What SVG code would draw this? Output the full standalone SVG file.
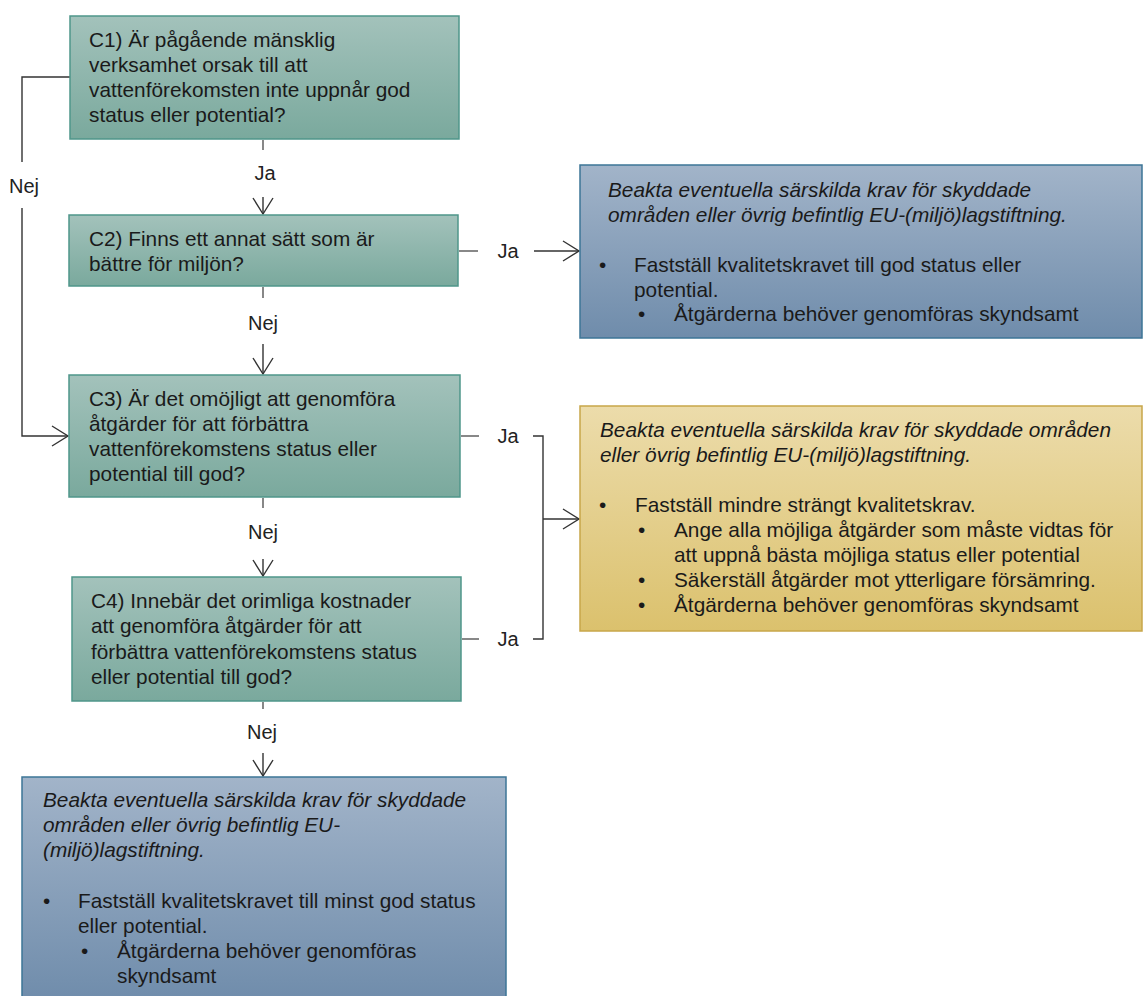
<svg xmlns="http://www.w3.org/2000/svg" width="1144" height="996" viewBox="0 0 1144 996">
<defs>
<linearGradient id="gTeal" x1="0" y1="0" x2="0" y2="1">
<stop offset="0" stop-color="#a3c2bb"/>
<stop offset="1" stop-color="#7aa99d"/>
</linearGradient>
<linearGradient id="gBlue" x1="0" y1="0" x2="0" y2="1">
<stop offset="0" stop-color="#a2b4c9"/>
<stop offset="1" stop-color="#6f8cab"/>
</linearGradient>
<linearGradient id="gYellow" x1="0" y1="0" x2="0" y2="1">
<stop offset="0" stop-color="#ecdcab"/>
<stop offset="1" stop-color="#dbc16d"/>
</linearGradient>
<marker id="arr" markerUnits="userSpaceOnUse" markerWidth="20" markerHeight="22" refX="17" refY="11" orient="auto">
<path d="M1,1 L17,11 L1,21" fill="none" stroke="#333" stroke-width="1.4"/>
</marker>
<style>
text{font-family:"Liberation Sans",Arial,sans-serif;font-size:20.8px;fill:#1a1a1a}
.it{font-style:italic}
.lbl{font-size:20px;text-anchor:middle;fill:#222}
.teal{fill:url(#gTeal);stroke:#4f968a;stroke-width:1.5}
.blue{fill:url(#gBlue);stroke:#3d7597;stroke-width:1.5}
.yel{fill:url(#gYellow);stroke:#c8a64a;stroke-width:1.5}
.ln{fill:none;stroke:#333;stroke-width:1.4}
.stub{fill:none;stroke:#555;stroke-width:1.4}
</style>
</defs>

<g id="connectors">
<polyline class="ln" points="70,77 22,77 22,162"/>
<polyline class="ln" points="22,208 22,436 68,436" marker-end="url(#arr)"/>
<line class="stub" x1="263" y1="140" x2="263" y2="150"/>
<line class="ln" x1="263" y1="197" x2="263" y2="214" marker-end="url(#arr)"/>
<line class="stub" x1="263" y1="287" x2="263" y2="298"/>
<line class="ln" x1="263" y1="344" x2="263" y2="374" marker-end="url(#arr)"/>
<line class="stub" x1="263" y1="498" x2="263" y2="508"/>
<line class="ln" x1="263" y1="559" x2="263" y2="576" marker-end="url(#arr)"/>
<line class="stub" x1="263" y1="702" x2="263" y2="709"/>
<line class="ln" x1="263" y1="753" x2="263" y2="776" marker-end="url(#arr)"/>
<line class="stub" x1="459" y1="251" x2="478" y2="251"/>
<line class="ln" x1="534" y1="251" x2="579" y2="251" marker-end="url(#arr)"/>
<line class="stub" x1="461" y1="436" x2="479" y2="436"/>
<line class="stub" x1="462" y1="639" x2="479" y2="639"/>
<polyline class="ln" points="533,436 543,436 543,639 533,639"/>
<line class="ln" x1="543" y1="519" x2="579" y2="519" marker-end="url(#arr)"/>
<text class="lbl" x="24" y="193">Nej</text>
<text class="lbl" x="265" y="180">Ja</text>
<text class="lbl" x="508" y="258">Ja</text>
<text class="lbl" x="263" y="330">Nej</text>
<text class="lbl" x="508" y="443">Ja</text>
<text class="lbl" x="263" y="539">Nej</text>
<text class="lbl" x="508" y="646">Ja</text>
<text class="lbl" x="262" y="739">Nej</text>
</g>

<g id="c1">
<rect class="teal" x="70" y="16" width="389" height="123"/>
<text x="89" y="47">C1) Är pågående mänsklig</text>
<text x="89" y="72">verksamhet orsak till att</text>
<text x="89" y="97">vattenförekomsten inte uppnår god</text>
<text x="89" y="122">status eller potential?</text>
</g>

<g id="c2">
<rect class="teal" x="69" y="215" width="389" height="71"/>
<text x="89" y="246">C2) Finns ett annat sätt som är</text>
<text x="89" y="271">bättre för miljön?</text>
</g>

<g id="c3">
<rect class="teal" x="69" y="375" width="391" height="122"/>
<text x="89" y="406">C3) Är det omöjligt att genomföra</text>
<text x="89" y="431">åtgärder för att förbättra</text>
<text x="89" y="456">vattenförekomstens status eller</text>
<text x="89" y="481">potential till god?</text>
</g>

<g id="c4">
<rect class="teal" x="72" y="577" width="389" height="124"/>
<text x="91" y="608">C4) Innebär det orimliga kostnader</text>
<text x="91" y="633">att genomföra åtgärder för att</text>
<text x="91" y="659">förbättra vattenförekomstens status</text>
<text x="91" y="684">eller potential till god?</text>
</g>

<g id="r1">
<rect class="blue" x="580" y="165" width="562" height="173"/>
<text class="it" x="608" y="197">Beakta eventuella särskilda krav för skyddade</text>
<text class="it" x="608" y="222">områden eller övrig befintlig EU-(miljö)lagstiftning.</text>
<text x="599" y="272">•</text>
<text x="634" y="272">Fastställ kvalitetskravet till god status eller</text>
<text x="634" y="297">potential.</text>
<text x="638" y="321">•</text>
<text x="674" y="321">Åtgärderna behöver genomföras skyndsamt</text>
</g>

<g id="r2">
<rect class="yel" x="580" y="406" width="562" height="225"/>
<text class="it" x="600" y="437">Beakta eventuella särskilda krav för skyddade områden</text>
<text class="it" x="600" y="462">eller övrig befintlig EU-(miljö)lagstiftning.</text>
<text x="599" y="512">•</text>
<text x="635" y="512">Fastställ mindre strängt kvalitetskrav.</text>
<text x="638" y="537">•</text>
<text x="674" y="537">Ange alla möjliga åtgärder som måste vidtas för</text>
<text x="674" y="562">att uppnå bästa möjliga status eller potential</text>
<text x="638" y="587">•</text>
<text x="674" y="587">Säkerställ åtgärder mot ytterligare försämring.</text>
<text x="638" y="612">•</text>
<text x="674" y="612">Åtgärderna behöver genomföras skyndsamt</text>
</g>

<g id="r3">
<rect class="blue" x="22" y="777" width="484" height="225"/>
<text class="it" x="43" y="807">Beakta eventuella särskilda krav för skyddade</text>
<text class="it" x="43" y="832">områden eller övrig befintlig EU-</text>
<text class="it" x="43" y="857">(miljö)lagstiftning.</text>
<text x="43" y="908">•</text>
<text x="78" y="908">Fastställ kvalitetskravet till minst god status</text>
<text x="78" y="933">eller potential.</text>
<text x="81" y="958">•</text>
<text x="117" y="958">Åtgärderna behöver genomföras</text>
<text x="117" y="983">skyndsamt</text>
</g>
</svg>
